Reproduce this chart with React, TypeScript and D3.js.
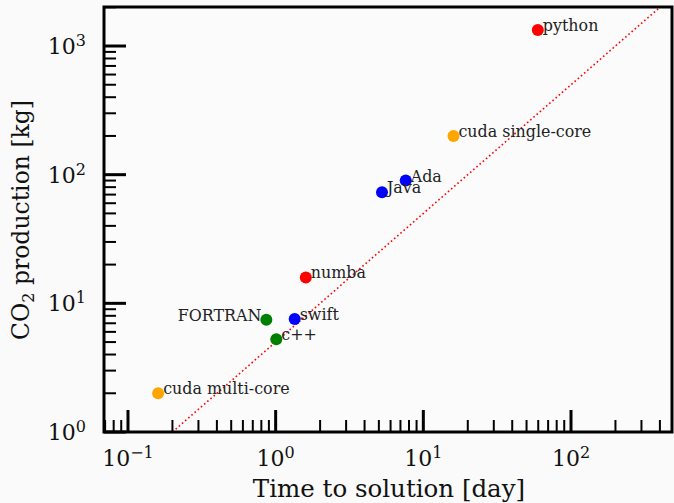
import React from "react";
import * as d3 from "d3";

const names = ["python", "cuda single-core", "Ada", "Java", "numba", "FORTRAN", "swift", "c++", "cuda multi-core"];
const timeDays = [59.6, 16.0, 7.6, 5.25, 1.6, 0.865, 1.345, 1.01, 0.16];
const co2Kg = [1330, 200, 90, 73, 15.9, 7.46, 7.55, 5.25, 2.0];
const colors = ["red", "orange", "blue", "blue", "red", "green", "blue", "green", "orange"];
const labelLeft = [false, false, false, false, false, true, false, false, false];
const xMajor = [0.1, 1, 10, 100];
const xMajorExp = ["\u22121", "0", "1", "2"];
const yMajor = [1, 10, 100, 1000];
const yMajorExp = ["0", "1", "2", "3"];
const fitFactor = 5;
const fitX = [0.2, 400];

const W = 674, H = 503;
const L = 104, R = 672, T = 7, B = 432;
const FONT = "'DejaVu Serif', serif";

export default function App() {
  const x = d3.scaleLog().domain([0.0688, 483]).range([L, R]);
  const y = d3.scaleLog().domain([1, 2010]).range([B, T]);

  const minorX: number[] = [];
  for (let e = -2; e <= 2; e++) for (let m = 2; m <= 9; m++) {
    const v = m * Math.pow(10, e);
    if (v >= x.domain()[0] && v <= x.domain()[1]) minorX.push(v);
  }
  const minorY: number[] = [];
  for (let e = 0; e <= 3; e++) for (let m = 2; m <= 9; m++) {
    const v = m * Math.pow(10, e);
    if (v >= y.domain()[0] && v <= y.domain()[1]) minorY.push(v);
  }

  const line = d3.line<number>().x((d) => x(d)).y((d) => y(d * fitFactor));

  return (
    <svg width={W} height={H} style={{ position: "absolute", left: 0, top: 0, background: "#fafafa" }} fontFamily={FONT}>
      <rect x={0} y={0} width={W} height={H} fill="#fafafa" />
      <rect x={L} y={T} width={R - L} height={B - T} fill="#fbfbfb" />
      <defs>
        <clipPath id="plot"><rect x={L} y={T} width={R - L} height={B - T} /></clipPath>
      </defs>
      <path d={line(fitX) || ""} fill="none" stroke="red" strokeWidth={1.6} strokeDasharray="1.6 2.6" clipPath="url(#plot)" />
      {timeDays.map((t, i) => (
        <g key={names[i]}>
          <circle cx={x(t)} cy={y(co2Kg[i])} r={6} fill={colors[i]} />
          <text x={x(t) + (labelLeft[i] ? -5 : 5)} y={y(co2Kg[i]) + 1} fontSize={15.9} fill="#222" textAnchor={labelLeft[i] ? "end" : "start"}>{names[i]}</text>
        </g>
      ))}
      {minorX.map((v) => <line key={"mx" + v} x1={x(v)} x2={x(v)} y1={B} y2={B - 12} stroke="#000" strokeWidth={2} />)}
      {xMajor.map((v) => <line key={"Mx" + v} x1={x(v)} x2={x(v)} y1={B} y2={B - 22} stroke="#000" strokeWidth={3} />)}
      {minorY.map((v) => <line key={"my" + v} x1={L} x2={L + 12} y1={y(v)} y2={y(v)} stroke="#000" strokeWidth={2} />)}
      {yMajor.map((v) => <line key={"My" + v} x1={L} x2={L + 22} y1={y(v)} y2={y(v)} stroke="#000" strokeWidth={3} />)}
      <rect x={L} y={T} width={R - L} height={B - T} fill="none" stroke="#000" strokeWidth={3} />
      {xMajor.map((v, i) => (
        <text key={"xl" + v} x={x(v)} y={466} fontSize={22} fill="#111" textAnchor="middle">
          10<tspan fontSize={16} dy={-8}>{xMajorExp[i]}</tspan>
        </text>
      ))}
      {yMajor.map((v, i) => (
        <text key={"yl" + v} x={86} y={y(v) + 8} fontSize={22} fill="#111" textAnchor="end">
          10<tspan fontSize={16} dy={-8}>{yMajorExp[i]}</tspan>
        </text>
      ))}
      <text x={(L + R) / 2 + 1} y={497} fontSize={24.5} fill="#111" textAnchor="middle">Time to solution [day]</text>
      <text transform={`translate(29,220) rotate(-90)`} fontSize={23.5} fill="#111" textAnchor="middle">
        CO<tspan fontSize={16} dy={5}>2</tspan><tspan dy={-5}> production [kg]</tspan>
      </text>
    </svg>
  );
}
